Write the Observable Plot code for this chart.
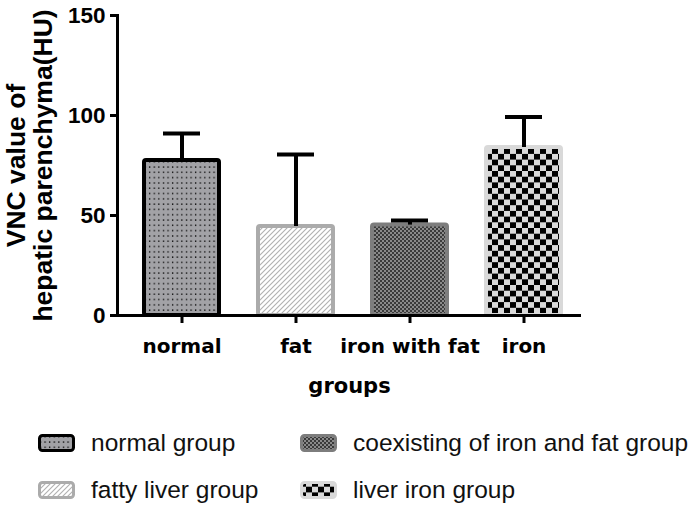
<!DOCTYPE html>
<html><head><meta charset="utf-8">
<script src="https://cdn.jsdelivr.net/npm/d3@7"></script>
<script src="https://cdn.jsdelivr.net/npm/@observablehq/plot@0.6"></script>
<style>
body{margin:0;background:#fff;}
#chart svg{display:block}
#legend{position:relative;width:695px;height:97px;font-family:"Liberation Sans",Arial,sans-serif;font-size:24.5px;color:#111;}
.item{position:absolute;display:flex;align-items:center;height:30px;white-space:nowrap}
.item svg{margin-right:16px;display:block}
</style></head><body>
<div id="chart"></div><div id="legend"></div>
<script>
const groups = ["normal", "fat", "iron with fat", "iron"];
const means = [77.5, 44.5, 45.2, 84];
const sd = [13.5, 36, 2.3, 15.3];
const legendLabels = ["normal group", "fatty liver group", "coexisting of iron and fat group", "liver iron group"];
const yTicks = [0, 50, 100, 150];

const style = {
  fill: ["url(#pNormal)", "url(#pFat)", "url(#pIronFat)", "url(#pIron)"],
  stroke: ["#000000", "#ababab", "#7d7d7d", "#d9d9d9"]
};

const data = groups.map((g, i) => ({group: g, mean: means[i], top: means[i] + sd[i], i}));

const boldArial = "'Liberation Sans', Arial, sans-serif";
const wideBold = "'DejaVu Sans', 'Liberation Sans', sans-serif";

const plot = Plot.plot({
  width: 695, height: 415,
  marginTop: 15, marginBottom: 100, marginLeft: 117, marginRight: 114,
  style: {fontFamily: boldArial, background: "white", color: "#000"},
  x: {domain: groups, range: [143, 561], paddingInner: 0.344, paddingOuter: 0},
  y: {domain: [0, 150]},
  color: {type: "identity"},
  marks: [
    Plot.barY(data, {x: "group", y: "mean", fill: d => style.fill[d.i], stroke: d => style.stroke[d.i], strokeWidth: 4, rx: 2}),
    Plot.ruleX(data, {x: "group", y1: "mean", y2: "top", stroke: "#000", strokeWidth: 4}),
    Plot.tickY(data, {x: "group", y: "top", stroke: "#000", strokeWidth: 4, insetLeft: 19, insetRight: 19}),
    Plot.ruleY([0], {stroke: "#000", strokeWidth: 3}),
    Plot.frame({anchor: "left", stroke: "#000", strokeWidth: 3}),
    Plot.axisY({ticks: yTicks, tickSize: 7, tickPadding: 5, strokeWidth: 3, fontSize: 22.5, fontWeight: "bold", fontFamily: boldArial, label: null}),
    Plot.axisX({tickSize: 8, tickPadding: 15, strokeWidth: 3, fontSize: 20, fontWeight: "bold", fontFamily: wideBold, label: null}),
    Plot.text(["VNC value of\nhepatic parenchyma(HU)"], {text: d => d, frameAnchor: "left", rotate: -90, dx: -88, fontSize: 26.5, fontWeight: "bold", fontFamily: boldArial, lineHeight: 1.03, textAnchor: "middle", lineAnchor: "middle", fill: "#000"}),
    Plot.text(["groups"], {text: d => d, frameAnchor: "bottom", dy: 71, fontSize: 21, fontWeight: "bold", fontFamily: wideBold, lineAnchor: "middle", fill: "#000"})
  ]
});

d3.select(plot).insert("defs", ":first-child").html(`
  <pattern id="pNormal" patternUnits="userSpaceOnUse" width="4.6" height="5.3">
    <rect width="4.6" height="5.3" fill="#a2a2a6"/>
    <rect x="1.8" y="2.1" width="1.3" height="1.3" fill="#000"/>
  </pattern>
  <pattern id="pFat" patternUnits="userSpaceOnUse" width="5" height="5">
    <rect width="5" height="5" fill="#ffffff"/>
    <path d="M-1,6 L6,-1 M-1,1 L1,-1 M4,6 L6,4" stroke="#b0b0b0" stroke-width="1.1"/>
  </pattern>
  <pattern id="pIronFat" patternUnits="userSpaceOnUse" width="4" height="4">
    <rect width="4" height="4" fill="#8a8a8a"/>
    <rect x="0" y="0" width="2" height="2" fill="#3a3a3a"/>
    <rect x="2" y="2" width="2" height="2" fill="#3a3a3a"/>
  </pattern>
  <pattern id="pIron" patternUnits="userSpaceOnUse" width="12" height="11.4">
    <rect width="12" height="11.4" fill="#d9d9d9"/>
    <rect x="0" y="0" width="6" height="5.7" fill="#000"/>
    <rect x="6" y="5.7" width="6" height="5.7" fill="#000"/>
  </pattern>
`);

document.getElementById("chart").appendChild(plot);

// legend
const pos = [[38, 13], [38, 60], [300, 13], [300, 60]];
const legend = d3.select("#legend");
legendLabels.forEach((lab, i) => {
  const item = legend.append("div").attr("class", "item")
    .style("left", pos[i][0] + "px").style("top", pos[i][1] + "px");
  const s = item.append("svg").attr("width", 37).attr("height", 18);
  s.append("rect").attr("x", 1.5).attr("y", 1.5).attr("width", 34).attr("height", 15).attr("rx", 3)
    .attr("fill", style.fill[i]).attr("stroke", style.stroke[i]).attr("stroke-width", 3);
  item.append("span").text(lab);
});
</script>
</body></html>
